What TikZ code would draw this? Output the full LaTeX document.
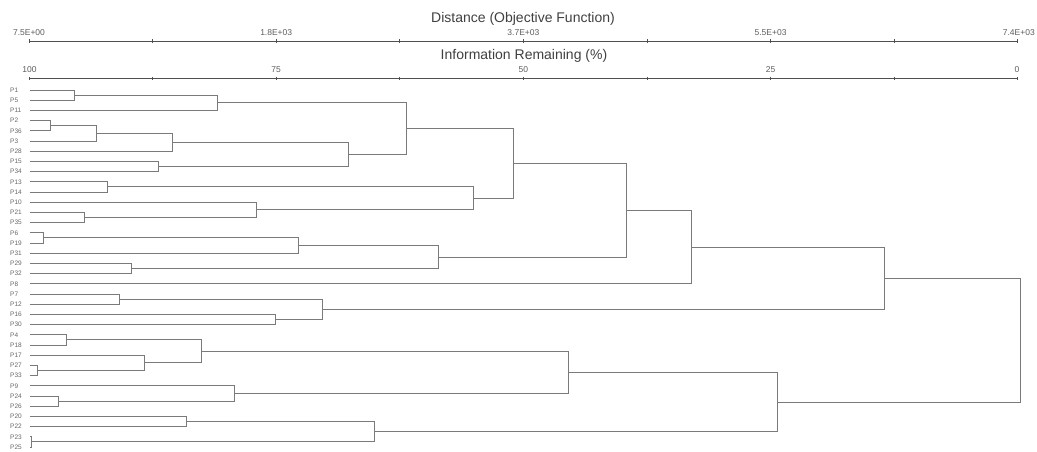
\documentclass[tikz,border=0pt]{standalone}
\usepackage{fontspec}
\setmainfont{Liberation Sans}
\usetikzlibrary{calc}

\definecolor{linkgray}{HTML}{7A7A7A}
\definecolor{axisgray}{HTML}{505050}
\definecolor{textgray}{HTML}{404040}

\tikzset{
  link/.style={linkgray, line width=0.9pt},
  axisline/.style={axisgray, line width=1pt},
  leaf/.style={anchor=west, inner sep=0pt, text=textgray!80, font=\fontsize{6.5}{7}\selectfont},
  ticklbl/.style={inner sep=0pt, text=textgray!85, font=\fontsize{8.5}{9}\selectfont},
  axtitle/.style={inner sep=0pt, text=textgray, font=\fontsize{14}{15}\selectfont}
}

% merge two clusters: name, distance x, first child, second child
\newcommand\mrg[4]{%
  \coordinate (#1m) at ($(#3)!.5!(#4)$);
  \coordinate (#1) at (#2,0 |- #1m);
  \draw[link] (#3) -| (#1);
  \draw[link] (#4) -| (#1);
}

\begin{document}
\begin{tikzpicture}[x=1pt,y=-1pt]
\useasboundingbox (0,0) rectangle (1037,452);

% axes
\node[axtitle] (disttitle) at (523,19) {Distance (Objective Function)};
\draw[axisline] (29,41.5) -- (1018,41.5);
\foreach \k in {0,...,8} \draw[axisline] (29+123.6*\k,39.5) -- (29+123.6*\k,43);
\node[ticklbl] (d0) at (29,33) {7.5E+00};
\node[ticklbl] (d1) at (276.2,33) {1.8E+03};
\node[ticklbl] (d2) at (523.4,33) {3.7E+03};
\node[ticklbl] (d3) at (770.6,33) {5.5E+03};
\node[ticklbl, anchor=east] (d4) at (1035,33) {7.4E+03};

\node[axtitle] (infotitle) at (524,56) {Information Remaining (\%)};
\draw[axisline] (29,79) -- (1018,79);
\foreach \k in {0,...,8} \draw[axisline] (29+123.6*\k,77) -- (29+123.6*\k,80.5);
\node[ticklbl] (i0) at (29.5,70) {100};
\node[ticklbl] (i1) at (276.2,70) {75};
\node[ticklbl] (i2) at (523.4,70) {50};
\node[ticklbl] (i3) at (770.6,70) {25};
\node[ticklbl] (i4) at (1017,70) {0};

% leaves
\foreach \lbl [count=\i from 0] in {P1,P5,P11,P2,P36,P3,P28,P15,P34,P13,P14,P10,P21,P35,P6,P19,P31,P29,P32,P8,P7,P12,P16,P30,P4,P18,P17,P27,P33,P9,P24,P26,P20,P22,P23,P25}{
  \node[leaf] (t\lbl) at (10,90+10.2*\i) {\lbl};
  \coordinate (\lbl) at (30,90+10.2*\i);
}

% clusters
\mrg{a1}{74}{P1}{P5}
\mrg{a2}{217}{a1}{P11}
\mrg{b1}{50}{P2}{P36}
\mrg{b2}{96}{b1}{P3}
\mrg{b3}{172}{b2}{P28}
\mrg{b4}{158}{P15}{P34}
\mrg{b5}{348}{b3}{b4}
\mrg{ab}{406}{a2}{b5}
\mrg{c1}{107}{P13}{P14}
\mrg{c2}{84}{P21}{P35}
\mrg{c3}{256}{P10}{c2}
\mrg{c4}{473}{c1}{c3}
\mrg{abc}{513}{ab}{c4}
\mrg{e1}{43}{P6}{P19}
\mrg{e2}{298}{e1}{P31}
\mrg{e3}{131}{P29}{P32}
\mrg{e4}{438}{e2}{e3}
\mrg{top}{626}{abc}{e4}
\mrg{top8}{691}{top}{P8}
\mrg{f1}{119}{P7}{P12}
\mrg{f2}{275}{P16}{P30}
\mrg{f3}{322}{f1}{f2}
\mrg{upper}{884}{top8}{f3}
\mrg{h1}{66}{P4}{P18}
\mrg{h2}{37}{P27}{P33}
\mrg{h3}{144}{P17}{h2}
\mrg{h4}{201}{h1}{h3}
\mrg{k1}{58}{P24}{P26}
\mrg{k2}{234}{P9}{k1}
\mrg{hk}{568}{h4}{k2}
\mrg{m1}{186}{P20}{P22}
\mrg{m2}{31.5}{P23}{P25}
\mrg{m3}{374}{m1}{m2}
\mrg{lower}{777}{hk}{m3}
\mrg{root}{1020}{upper}{lower}

\end{tikzpicture}
\end{document}
